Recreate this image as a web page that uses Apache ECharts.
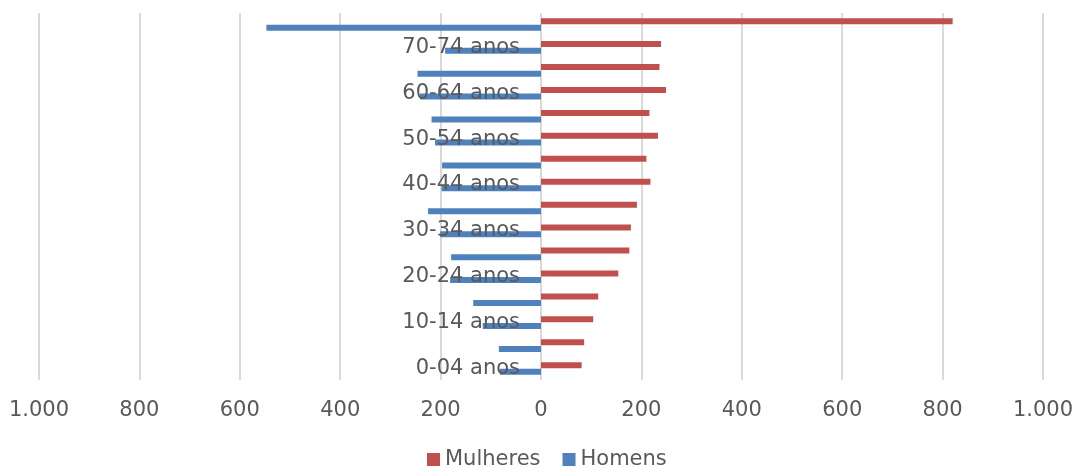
<!DOCTYPE html>
<html>
<head>
<meta charset="utf-8">
<script src="https://cdn.jsdelivr.net/npm/echarts@6/dist/echarts.min.js"></script>
<style>
html,body{margin:0;padding:0;background:#fff;}
#c{width:1080px;height:469px;}
</style>
</head>
<body>
<div id="c"></div>
<script>
var categories = ['0-04 anos','05-09 anos','10-14 anos','15-19 anos','20-24 anos','25-29 anos','30-34 anos','35-39 anos','40-44 anos','45-49 anos','50-54 anos','55-59 anos','60-64 anos','65-69 anos','70-74 anos','75 anos e mais'];
var mulheres = [81, 86, 104, 114, 154, 176, 179, 191, 218, 210, 233, 216, 249, 236, 239, 820];
var homens = [82, 84, 116, 135, 181, 179, 201, 225, 198, 197, 211, 218, 241, 246, 191, 547];

function fmt(v){
  var a = Math.abs(v);
  return String(a).replace(/\B(?=(\d{3})+(?!\d))/g, '.');
}
var font = 'DejaVu Sans, Verdana, sans-serif';
var gridLeft = 39, gridRight = 37, W = 1080;
var zeroOffset = (W - gridLeft - gridRight) / 2;
var chart = echarts.init(document.getElementById('c'), null, {renderer:'canvas'});
chart.setOption({
  animation:false,
  textStyle:{fontFamily:font},
  grid:{left:gridLeft,right:gridRight,top:13,bottom:89,containLabel:false,outerBoundsMode:'none'},
  legend:{
    data:['Mulheres','Homens'],
    top:444,left:422,padding:5,
    icon:'rect',itemWidth:13,itemHeight:13,itemGap:22,
    textStyle:{fontFamily:font,fontSize:21,color:'#595959'}
  },
  xAxis:{
    type:'value',min:-1000,max:1000,interval:200,
    axisLine:{show:false},axisTick:{show:false},
    splitLine:{show:true,lineStyle:{color:'#D9D9D9',width:2}},
    axisLabel:{formatter:fmt,fontFamily:font,fontSize:21,color:'#595959',margin:20}
  },
  yAxis:{
    type:'category',data:categories,position:'left',offset:-zeroOffset,z:10,
    axisLine:{show:false,onZero:false},axisTick:{show:false},
    axisLabel:{interval:1,fontFamily:font,fontSize:21,color:'#595959',margin:21}
  },
  series:[
    {name:'Mulheres',type:'bar',data:mulheres,barWidth:6,barGap:'10%',
     itemStyle:{color:'#C0504D'},z:1},
    {name:'Homens',type:'bar',data:homens.map(function(v){return -v;}),barWidth:6,barGap:'10%',
     itemStyle:{color:'#4F81BD'},z:1}
  ]
});
</script>
</body>
</html>
